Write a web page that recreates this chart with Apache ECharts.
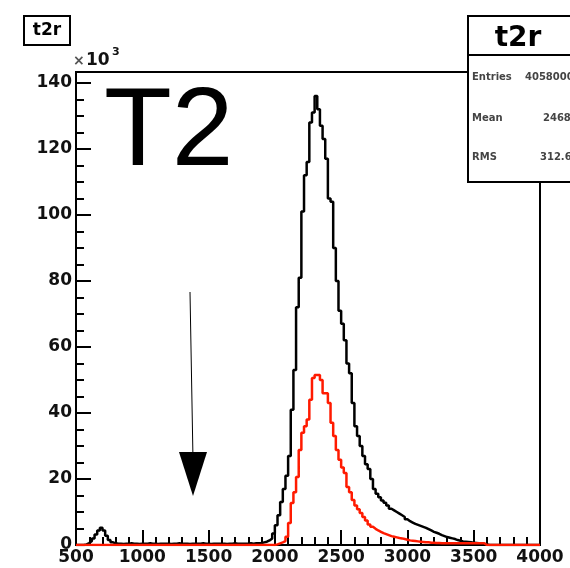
<!DOCTYPE html>
<html>
<head>
<meta charset="utf-8">
<script src="https://cdn.jsdelivr.net/npm/echarts@6/dist/echarts.min.js"></script>
<style>
html,body{margin:0;padding:0;background:#fff;}
#chart{width:570px;height:568px;}
</style>
</head>
<body>
<div id="chart"></div>
<script>
// Histogram binning (x in t2r units)
const binStart = 500;
const binWidth = 20;
const xTickValues = [500, 1000, 1500, 2000, 2500, 3000, 3500, 4000];
const yTickValues = [0, 20, 40, 60, 80, 100, 120, 140];

// Black histogram counts (x10^3), bins from 500 to 4000 width 20
const blackCounts = [
  0, 0, 0, 0.2, 0.6, 1.2, 2.0, 3.2, 4.4, 5.2,
  4.4, 2.8, 1.5, 0.8, 0.5,
  0.4, 0.4, 0.3, 0.4, 0.4, 0.5, 0.4, 0.4, 0.3, 0.4,
  0.4, 0.4, 0.5, 0.4, 0.4, 0.3, 0.4, 0.4, 0.4, 0.4,
  0.3, 0.4, 0.4, 0.5, 0.4, 0.4, 0.4, 0.3, 0.4, 0.4,
  0.4, 0.4, 0.5, 0.4, 0.4, 0.3, 0.4, 0.4, 0.4, 0.4,
  0.4, 0.3, 0.4, 0.4, 0.5, 0.4, 0.4, 0.4, 0.4, 0.4,
  0.5, 0.4, 0.5, 0.5,
  0.6, 0.8, 1.0, 1.4, 2.0, 3.5,
  6.0, 9.0, 13, 17, 21, 27, 41, 53, 72, 81,
  101, 112, 116, 128, 131, 136, 132, 127, 123, 117,
  105, 104, 90, 80, 71, 67, 62, 55, 52, 43,
  36, 33, 30, 27, 24.5, 23, 20, 17, 15.5, 14.5,
  13.5, 12.8, 12, 11, 10.5, 10, 9.5, 9, 8.5, 7.8,
  7.2, 6.8, 6.4, 6.1, 5.8, 5.5, 5.2, 4.8, 4.4, 4.0,
  3.7, 3.4, 3.0, 2.7, 2.4, 2.2, 2.0, 1.8, 1.5, 1.3,
  1.1, 1.0, 0.9, 0.8, 0.7, 0.6, 0.5, 0.4, 0.3, 0.2,
  0, 0, 0, 0, 0, 0, 0, 0, 0, 0,
  0, 0, 0, 0, 0, 0, 0, 0, 0, 0
];

// Red histogram counts (x10^3)
const redCounts = [
  0, 0, 0, 0, 0, 0, 0, 0, 0, 0,
  0, 0, 0, 0, 0, 0, 0, 0, 0, 0,
  0, 0, 0, 0, 0, 0, 0, 0, 0, 0,
  0, 0, 0, 0, 0, 0, 0, 0, 0, 0,
  0, 0, 0, 0, 0, 0, 0, 0, 0, 0,
  0, 0, 0, 0, 0, 0, 0, 0, 0, 0,
  0, 0, 0, 0, 0, 0, 0, 0, 0, 0,
  0, 0, 0, 0, 0,
  0.2, 0.5, 0.8, 1.2, 2.5, 6.7, 12.7, 16, 20.6, 28.8,
  34, 36, 38, 44, 50.6, 51.5, 51.5, 50, 46, 46,
  43, 37, 33, 28.8, 25.8, 23.5, 21.8, 17.6, 16, 13.6,
  12, 10.8, 9.7, 8.5, 7.4, 6.2, 5.5, 4.9, 4.4, 4.0,
  3.6, 3.3, 3.0, 2.7, 2.5, 2.3, 2.1, 2.0, 1.8, 1.6,
  1.4, 1.3, 1.2, 1.1, 1.0, 0.9, 0.8, 0.8, 0.7, 0.7,
  0.6, 0.6,
  0.5, 0.5, 0.5, 0.5, 0.5, 0.5, 0.5, 0.5, 0.5, 0.5,
  0.5, 0.5, 0.5, 0.5, 0.5, 0.5, 0.5,
  0, 0, 0, 0, 0, 0, 0, 0, 0, 0,
  0, 0, 0, 0, 0, 0, 0, 0, 0, 0, 0
];

const histTitle = 't2r';
const statsLabels = ['Entries', 'Mean', 'RMS'];
const statsValues = ['4058000', '2468', '312.6'];
const bigLabel = 'T2';

function toSteps(counts) {
  const pts = counts.map((v, i) => [binStart + i * binWidth, v]);
  pts.push([binStart + counts.length * binWidth, counts[counts.length - 1]]);
  return pts;
}

const chart = echarts.init(document.getElementById('chart'), null, {renderer: 'canvas'});
const labelFont = {fontFamily: 'DejaVu Sans', fontWeight: 'bold', fontSize: 17, color: '#111'};

chart.setOption({
  animation: false,
  backgroundColor: '#fff',
  grid: {left: 76, right: 30, top: 72, bottom: 23, show: true, borderColor: '#000', borderWidth: 2, backgroundColor: 'transparent'},
  xAxis: {
    type: 'value', min: 500, max: 4000, interval: 500,
    axisLine: {show: true, onZero: false, lineStyle: {color: '#000', width: 2}},
    axisTick: {show: true, inside: true, length: 15, lineStyle: {color: '#000', width: 2}},
    minorTick: {show: true, splitNumber: 5, length: 8, lineStyle: {color: '#000', width: 2}},
    splitLine: {show: false},
    axisLabel: Object.assign({margin: 4, formatter: v => xTickValues.includes(v) ? String(v) : ''}, labelFont)
  },
  yAxis: {
    type: 'value', min: 0, max: 143.3, interval: 20,
    axisLine: {show: true, lineStyle: {color: '#000', width: 2}},
    axisTick: {show: true, inside: true, length: 15, lineStyle: {color: '#000', width: 2}},
    minorTick: {show: true, splitNumber: 4, length: 8, lineStyle: {color: '#000', width: 2}},
    splitLine: {show: false},
    axisLabel: Object.assign({margin: 4, formatter: v => yTickValues.includes(v) ? String(v) : ''}, labelFont)
  },
  series: [
    {type: 'line', step: 'end', data: toSteps(blackCounts), showSymbol: false, lineStyle: {color: '#000', width: 2.5}, z: 3},
    {type: 'line', step: 'end', data: toSteps(redCounts), showSymbol: false, lineStyle: {color: '#ff1a00', width: 2.5}, z: 4}
  ],
  graphic: [
    // title box
    {type: 'rect', z: 100, shape: {x: 24, y: 16, width: 46, height: 29}, style: {fill: '#fff', stroke: '#000', lineWidth: 2}},
    {type: 'text', z: 101, x: 47, y: 31, style: {text: histTitle, font: 'bold 17px "DejaVu Sans"', fill: '#000', align: 'center', verticalAlign: 'middle'}},
    // x10^3
    {type: 'text', z: 101, x: 73, y: 61, style: {text: '\u00d7', font: 'bold 14px "DejaVu Sans"', fill: '#555', verticalAlign: 'middle'}},
    {type: 'text', z: 101, x: 86, y: 61, style: {text: '10', font: 'bold 17px "DejaVu Sans"', fill: '#111', verticalAlign: 'middle'}},
    {type: 'text', z: 101, x: 112, y: 52, style: {text: '3', font: 'bold 11px "DejaVu Sans"', fill: '#111', verticalAlign: 'middle'}},
    // big label
    {type: 'text', z: 101, x: 104, y: 134, style: {text: bigLabel, font: '111px "Liberation Sans"', fill: '#000', verticalAlign: 'middle'}},
    // arrow
    {type: 'line', z: 101, shape: {x1: 190, y1: 292, x2: 193, y2: 460}, style: {stroke: '#000', lineWidth: 1}},
    {type: 'polygon', z: 101, shape: {points: [[179, 452], [207, 452], [193, 496]]}, style: {fill: '#000'}},
    // stats box
    {type: 'rect', z: 100, shape: {x: 468, y: 16, width: 140, height: 166}, style: {fill: '#fff', stroke: '#000', lineWidth: 2}},
    {type: 'line', z: 101, shape: {x1: 468, y1: 55, x2: 608, y2: 55}, style: {stroke: '#000', lineWidth: 2}},
    {type: 'text', z: 101, x: 518, y: 39, style: {text: histTitle, font: 'bold 28px "DejaVu Sans"', fill: '#000', align: 'center', verticalAlign: 'middle'}},
    {type: 'text', z: 101, x: 472, y: 77, style: {text: statsLabels[0], font: 'bold 10px "DejaVu Sans"', fill: '#444', verticalAlign: 'middle'}},
    {type: 'text', z: 101, x: 525, y: 77, style: {text: statsValues[0], font: 'bold 10px "DejaVu Sans"', fill: '#444', verticalAlign: 'middle'}},
    {type: 'text', z: 101, x: 472, y: 118, style: {text: statsLabels[1], font: 'bold 10px "DejaVu Sans"', fill: '#444', verticalAlign: 'middle'}},
    {type: 'text', z: 101, x: 543, y: 118, style: {text: statsValues[1], font: 'bold 10px "DejaVu Sans"', fill: '#444', verticalAlign: 'middle'}},
    {type: 'text', z: 101, x: 472, y: 157, style: {text: statsLabels[2], font: 'bold 10px "DejaVu Sans"', fill: '#444', verticalAlign: 'middle'}},
    {type: 'text', z: 101, x: 540, y: 157, style: {text: statsValues[2], font: 'bold 10px "DejaVu Sans"', fill: '#444', verticalAlign: 'middle'}}
  ]
});
</script>
</body>
</html>
